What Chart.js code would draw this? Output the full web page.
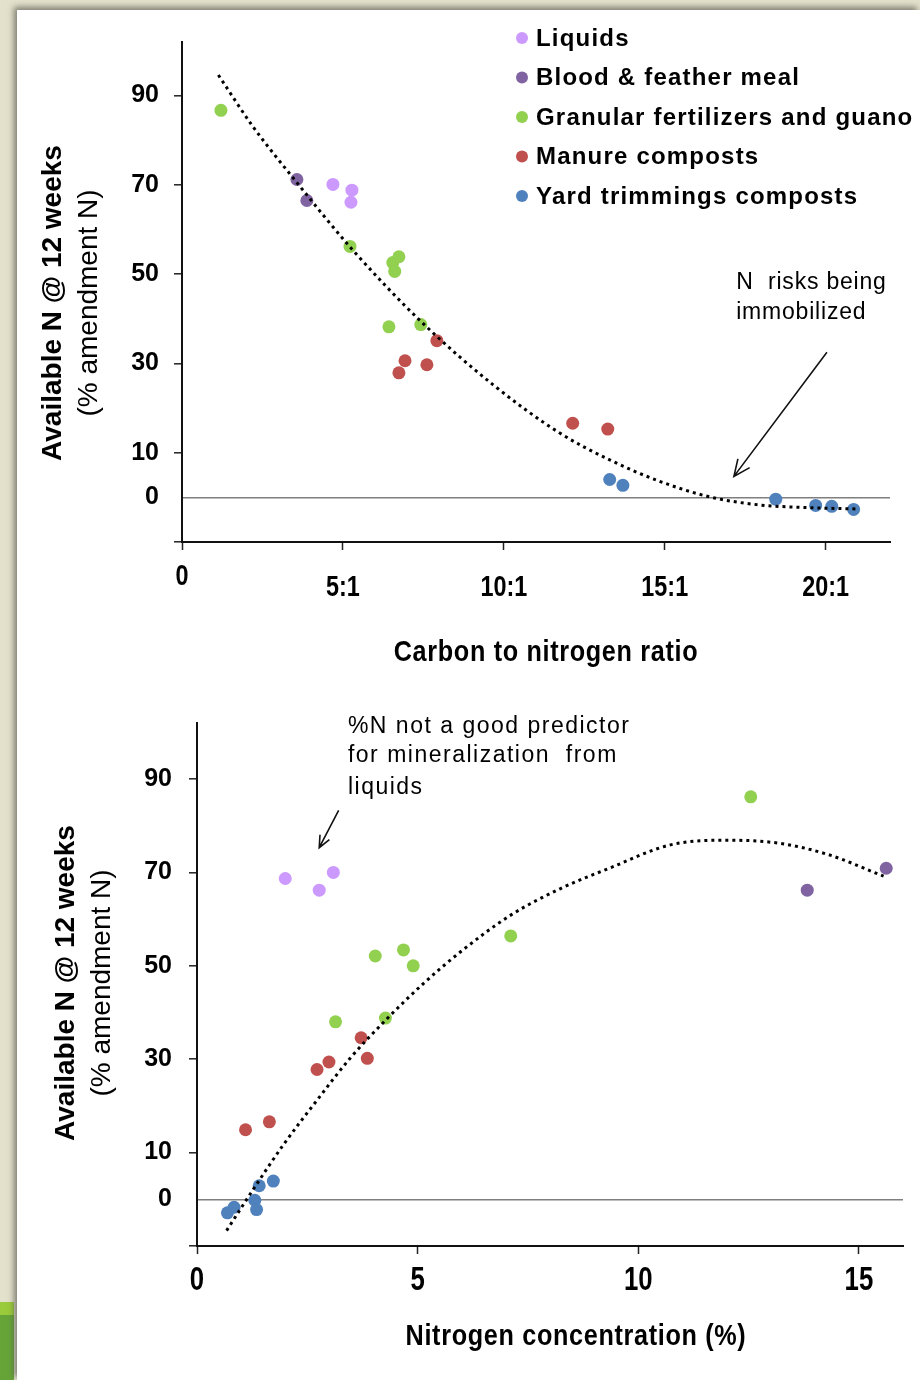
<!DOCTYPE html>
<html>
<head>
<meta charset="utf-8">
<script src="https://cdn.jsdelivr.net/npm/chart.js@4.4.0/dist/chart.umd.min.js"></script>
<style>
html, body { margin: 0; padding: 0; }
body { width: 920px; height: 1380px; background: #e3e0cb; position: relative; overflow: hidden; }
#panel { position: absolute; left: 17px; top: 10px; width: 903px; height: 1370px; background: #fff; box-shadow: -3px -3px 6px rgba(85, 85, 75, 0.7); }
#stripA { position: absolute; left: 0; top: 1302px; width: 14px; height: 13px; background: #9acb3a; }
#stripB { position: absolute; left: 0; top: 1315px; width: 14px; height: 65px; background: #67a438; }
.box { position: absolute; left: 17px; width: 903px; }
#box1 { top: 10px; height: 670px; }
#box2 { top: 680px; height: 700px; }
</style>
</head>
<body>
<div id="stripA"></div>
<div id="stripB"></div>
<div id="panel"></div>
<div class="box" id="box1"><canvas id="ratioChart" width="903" height="670"></canvas></div>
<div class="box" id="box2"><canvas id="nChart" width="903" height="700"></canvas></div>
<script>
// series names + colours (same for both charts)
const seriesNames = ['Liquids', 'Blood & feather meal', 'Granular fertilizers and guano', 'Manure composts', 'Yard trimmings composts'];
const seriesColors = ['#cc99ff', '#8064a2', '#92d050', '#c0504d', '#4f81bd'];

// top chart: C:N ratio vs available N
const ratioLiquidsX = [4.69, 5.28, 5.25];
const ratioLiquidsY = [70.1, 68.8, 66.1];
const ratioBloodX = [3.57, 3.88];
const ratioBloodY = [71.2, 66.5];
const ratioGranularX = [1.21, 5.22, 6.55, 6.74, 6.61, 6.43, 7.42];
const ratioGranularY = [86.7, 56.2, 52.6, 53.9, 50.6, 38.2, 38.7];
const ratioManureX = [7.92, 6.93, 6.74, 7.61, 12.14, 13.23];
const ratioManureY = [35.1, 30.6, 27.9, 29.7, 16.6, 15.3];
const ratioYardX = [13.29, 13.70, 18.45, 19.69, 20.19, 20.87];
const ratioYardY = [4.0, 2.7, -0.4, -1.8, -2.0, -2.7];
const ratioTrendX = [1.13, 2.21, 3.56, 5.27, 7.44, 9.67, 11.74, 13.29, 14.84, 16.40, 17.95, 19.50, 20.95];
const ratioTrendY = [94.6, 83.0, 70.6, 55.7, 39.3, 25.2, 14.4, 8.4, 3.6, 0.1, -1.7, -2.3, -2.6];
const ratioTicks = [0, 5, 10, 15, 20];
const ratioTickLabels = ['0', '5:1', '10:1', '15:1', '20:1'];

// bottom chart: N concentration (%) vs available N
const nLiquidsX = [2.00, 2.77, 3.09];
const nLiquidsY = [68.7, 66.2, 70.0];
const nBloodX = [13.83, 15.62];
const nBloodY = [66.2, 70.9];
const nGranularX = [4.04, 4.68, 4.90, 3.14, 4.27, 7.11, 12.55];
const nGranularY = [52.1, 53.4, 50.0, 38.0, 38.8, 56.4, 86.2];
const nManureX = [1.10, 1.64, 2.72, 2.99, 3.72, 3.86];
const nManureY = [14.9, 16.6, 27.8, 29.4, 34.6, 30.2];
const nYardX = [0.69, 0.84, 1.41, 1.73, 1.31, 1.35];
const nYardY = [-2.9, -1.7, 2.9, 3.9, -0.2, -2.2];
const nTrendX = [0.67, 1.28, 1.96, 2.71, 3.47, 4.30, 5.13, 5.96, 7.10, 8.23, 9.37, 10.73, 12.01, 13.15, 14.28, 15.56];
const nTrendY = [-6.7, 2.2, 11.7, 21.1, 30.2, 38.6, 46.2, 52.9, 60.8, 66.5, 71.0, 75.9, 76.9, 76.3, 73.9, 69.2];
const nTicks = [0, 5, 10, 15];
const nTickLabels = ['0', '5', '10', '15'];

const yTicks = [-10, 0, 10, 30, 50, 70, 90];

const FONT = '"Liberation Sans", Arial, sans-serif';

function pairs(xs, ys) {
    return xs.map((x, i) => ({ x: x, y: ys[i] }));
}

function makeDatasets(groups, trend) {
    const list = [{
        label: 'trend',
        data: pairs(trend[0], trend[1]),
        showLine: true,
        borderColor: '#000',
        borderWidth: 3,
        borderDash: [3, 4],
        pointRadius: 0,
        cubicInterpolationMode: 'monotone',
        order: 0
    }];
    groups.forEach((g, i) => {
        list.push({
            label: seriesNames[i],
            data: pairs(g[0], g[1]),
            backgroundColor: seriesColors[i],
            borderWidth: 0,
            pointRadius: 6.5,
            order: 1
        });
    });
    return list;
}

function drawArrow(ctx, x1, y1, x2, y2, head) {
    const a = Math.atan2(y2 - y1, x2 - x1), s = 0.42;
    ctx.beginPath();
    ctx.moveTo(x1, y1);
    ctx.lineTo(x2, y2);
    ctx.moveTo(x2 - head * Math.cos(a - s), y2 - head * Math.sin(a - s));
    ctx.lineTo(x2, y2);
    ctx.lineTo(x2 - head * Math.cos(a + s), y2 - head * Math.sin(a + s));
    ctx.stroke();
}

// narrow-looking text: squeeze horizontally
function squeezed(ctx, text, x, y, sx) {
    ctx.save();
    ctx.translate(x, y);
    ctx.scale(sx, 1);
    ctx.fillText(text, 0, 0);
    ctx.restore();
}

// titles, tick labels, note, arrow, legend
const extras = {
    id: 'extras',
    afterDraw(chart, args, o) {
        const ctx = chart.ctx, xs = chart.scales.x, ys = chart.scales.y, ca = chart.chartArea;
        ctx.save();
        ctx.fillStyle = '#000';
        ctx.textBaseline = 'middle';

        // rotated y title, two lines
        ctx.save();
        ctx.translate(o.yTitleX[0], o.yTitleY);
        ctx.rotate(-Math.PI / 2);
        ctx.textAlign = 'center';
        ctx.font = 'bold 28px ' + FONT;
        ctx.fillText('Available N @ 12 weeks', 0, 0);
        ctx.restore();
        ctx.save();
        ctx.translate(o.yTitleX[1], o.yTitleY);
        ctx.rotate(-Math.PI / 2);
        ctx.textAlign = 'center';
        ctx.font = '28px ' + FONT;
        ctx.fillText('(% amendment N)', 0, 0);
        ctx.restore();

        // x tick labels
        ctx.textAlign = 'center';
        ctx.font = 'bold ' + o.xLabelSize + 'px ' + FONT;
        o.xTicks.forEach((v, i) => {
            squeezed(ctx, o.xLabels[i], xs.getPixelForValue(v), o.xLabelY - (o.xLabelLift[i] || 0), 0.78);
        });

        // x title
        ctx.font = 'bold 30px ' + FONT;
        ctx.letterSpacing = '0.8px';
        squeezed(ctx, o.xTitle, (ca.left + ca.right) / 2 + o.xTitleShift, o.xTitleY, 0.84);

        // note text, placed in data units
        ctx.textAlign = 'left';
        ctx.font = '23px ' + FONT;
        ctx.letterSpacing = o.noteSpacing + 'px';
        o.note.forEach((line, i) => {
            ctx.fillText(line, xs.getPixelForValue(o.noteX), ys.getPixelForValue(o.noteY[i]));
        });
        ctx.letterSpacing = '0px';

        ctx.strokeStyle = '#111';
        ctx.lineWidth = 1.6;
        drawArrow(ctx,
            xs.getPixelForValue(o.arrow[0]), ys.getPixelForValue(o.arrow[1]),
            xs.getPixelForValue(o.arrow[2]), ys.getPixelForValue(o.arrow[3]), o.arrowHead);

        if (o.legend) {
            const lx = o.legend[0], ly = o.legend[1];
            ctx.font = 'bold 24px ' + FONT;
            ctx.letterSpacing = '1.2px';
            chart.data.datasets.filter(d => d.label !== 'trend').forEach((d, i) => {
                const y = ly + i * 39.5;
                ctx.fillStyle = d.backgroundColor;
                ctx.beginPath();
                ctx.arc(lx, y, 6, 0, Math.PI * 2);
                ctx.fill();
                ctx.fillStyle = '#000';
                ctx.fillText(d.label, lx + 14, y + 1);
            });
        }
        ctx.restore();
    }
};

function makeOptions(cfg) {
    return {
        responsive: false,
        animation: false,
        events: [],
        layout: { padding: { top: cfg.top, right: cfg.right, left: 0, bottom: 0 } },
        plugins: {
            legend: { display: false },
            tooltip: { enabled: false },
            extras: cfg.extras
        },
        scales: {
            x: {
                type: 'linear',
                min: 0,
                max: cfg.xMax,
                afterBuildTicks: (s) => { s.ticks = cfg.extras.xTicks.map(v => ({ value: v })); },
                afterFit: (s) => { s.height = cfg.xHeight; },
                border: { color: '#111', width: 2 },
                grid: { drawOnChartArea: false, tickLength: 8, tickColor: '#222', tickWidth: 1.5 },
                ticks: { display: false }
            },
            y: {
                type: 'linear',
                min: -10,
                max: 102,
                afterBuildTicks: (s) => { s.ticks = yTicks.map(v => ({ value: v })); },
                afterFit: (s) => { s.width = cfg.yWidth; },
                border: { color: '#111', width: 2 },
                grid: {
                    tickLength: 8,
                    lineWidth: 1.6,
                    color: (c) => (c.tick && c.tick.value === 0) ? '#7f7f7f' : 'rgba(0,0,0,0)',
                    tickColor: (c) => (c.tick && c.tick.value === 0) ? 'rgba(0,0,0,0)' : '#222',
                    tickWidth: 1.5
                },
                ticks: {
                    autoSkip: false,
                    padding: cfg.yPad,
                    color: '#000',
                    font: { family: FONT, weight: 'bold', size: 25 },
                    callback: (v) => v < 0 ? '' : String(v)
                }
            }
        }
    };
}

new Chart(document.getElementById('ratioChart'), {
    type: 'scatter',
    data: {
        datasets: makeDatasets([
            [ratioLiquidsX, ratioLiquidsY],
            [ratioBloodX, ratioBloodY],
            [ratioGranularX, ratioGranularY],
            [ratioManureX, ratioManureY],
            [ratioYardX, ratioYardY]
        ], [ratioTrendX, ratioTrendY])
    },
    options: makeOptions({
        top: 32, right: 30, xMax: 22, xHeight: 138, yWidth: 165, yPad: 15,
        extras: {
            xTicks: ratioTicks, xLabels: ratioTickLabels, xLabelSize: 30, xLabelY: 578, xLabelLift: [11, 0, 0, 0, 0],
            yTitleX: [36, 72], yTitleY: 293,
            xTitle: 'Carbon to nitrogen ratio', xTitleY: 643, xTitleShift: 10,
            note: ['N  risks being', 'immobilized'], noteX: 17.22, noteY: [48.1, 41.4], noteSpacing: 0.8,
            arrow: [20.04, 32.5, 17.15, 4.7], arrowHead: 18,
            legend: [505, 28]
        }
    }),
    plugins: [extras]
});

new Chart(document.getElementById('nChart'), {
    type: 'scatter',
    data: {
        datasets: makeDatasets([
            [nLiquidsX, nLiquidsY],
            [nBloodX, nBloodY],
            [nGranularX, nGranularY],
            [nManureX, nManureY],
            [nYardX, nYardY]
        ], [nTrendX, nTrendY])
    },
    options: makeOptions({
        top: 43, right: 17, xMax: 16, xHeight: 134, yWidth: 180, yPad: 17,
        extras: {
            xTicks: nTicks, xLabels: nTickLabels, xLabelSize: 33, xLabelY: 601, xLabelLift: [],
            yTitleX: [49, 85], yTitleY: 303,
            xTitle: 'Nitrogen concentration (%)', xTitleY: 657, xTitleShift: 26,
            note: ['%N not a good predictor', 'for mineralization  from', 'liquids'], noteX: 3.42, noteY: [101.3, 94.9, 88.2], noteSpacing: 1.5,
            arrow: [3.21, 83.3, 2.77, 75.3], arrowHead: 13,
            legend: null
        }
    }),
    plugins: [extras]
});
</script>
</body>
</html>
